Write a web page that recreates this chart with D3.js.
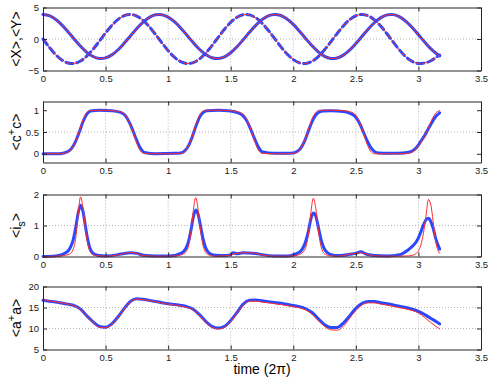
<!DOCTYPE html>
<html><head><meta charset="utf-8">
<script src="https://cdnjs.cloudflare.com/ajax/libs/d3/7.8.5/d3.min.js"></script>
<style>
html,body{margin:0;padding:0;background:#fff;}
svg{display:block;font-family:"Liberation Sans",Arial,Helvetica,sans-serif;}
</style></head>
<body><svg id="c" width="491" height="382"></svg>
<script>
// ---------- data ----------
const xTicks = [0,0.5,1,1.5,2,2.5,3,3.5];
const tGrid = [0,0.05,0.1,0.15,0.2,0.25,0.3,0.35,0.4,0.45,0.5,0.55,0.6,0.65,0.7,0.75,0.8,0.85,0.9,0.95,
  1.0,1.05,1.1,1.15,1.2,1.25,1.3,1.35,1.4,1.45,1.5,1.55,1.6,1.65,1.7,1.75,1.8,1.85,1.9,1.95,
  2.0,2.05,2.1,2.15,2.2,2.25,2.3,2.35,2.4,2.45,2.5,2.55,2.6,2.65,2.7,2.75,2.8,2.85,2.9,2.95,
  3.0,3.05,3.1,3.15,3.17];
// panel 1: <X>, <Y>
const xMean = [3.9,3.7,3.13,2.24,1.15,-0.03,-1.16,-2.11,-2.78,-3.09,-2.99,-2.52,-1.71,-0.65,0.52,1.67,2.68,3.44,3.84,3.86,
  3.48,2.75,1.76,0.6,-0.57,-1.63,-2.46,-2.97,-3.09,-2.82,-2.18,-1.24,-0.12,1.06,2.17,3.07,3.67,3.9,3.73,3.18,
  2.32,1.23,0.05,-1.08,-2.05,-2.75,-3.08,-3.01,-2.56,-1.77,-0.73,0.43,1.59,2.62,3.39,3.83,3.87,3.52,2.81,1.83,
  0.69,-0.49,-1.57,-2.42,-2.7];
const yMean = [0,-1.3,-2.45,-3.32,-3.81,-3.87,-3.49,-2.71,-1.63,-0.35,0.96,2.16,3.11,3.72,3.9,3.63,2.96,1.94,0.7,-0.61,
  -1.85,-2.89,-3.6,-3.89,-3.75,-3.17,-2.24,-1.06,0.26,1.54,2.64,3.44,3.86,3.83,3.37,2.52,1.38,0.1,-1.21,-2.37,
  -3.26,-3.79,-3.88,-3.53,-2.78,-1.71,-0.45,0.86,2.08,3.06,3.69,3.9,3.67,3.01,2.02,0.8,-0.52,-1.77,-2.83,-3.56,
  -3.89,-3.8,-3.45,-2.8,-2.55];
// panel 2: <c+c>
const tC = [0,0.1,0.17,0.2,0.23,0.26,0.29,0.32,0.35,0.38,
  0.45,0.55,0.62,0.66,0.69,0.72,0.75,0.78,0.81,0.9,
  1.05,1.1,1.13,1.16,1.19,1.22,1.25,1.28,1.31,1.4,
  1.5,1.56,1.6,1.63,1.66,1.69,1.72,1.75,1.85,1.95,
  2.0,2.03,2.06,2.09,2.12,2.15,2.18,2.21,2.24,2.3,
  2.4,2.46,2.5,2.53,2.56,2.59,2.62,2.65,2.68,2.78,
  2.88,2.93,2.96,2.99,3.02,3.05,3.08,3.11,3.14,3.17];
const cRed = [0,0,0.01,0.04,0.12,0.28,0.52,0.78,0.95,0.99,
  1.0,0.99,0.96,0.88,0.72,0.5,0.24,0.06,0.01,0,
  0,0.01,0.05,0.16,0.38,0.66,0.88,0.98,1.0,1.0,
  0.99,0.96,0.9,0.78,0.56,0.3,0.09,0.01,0,0,
  0.01,0.04,0.13,0.3,0.55,0.8,0.95,1.0,1.0,1.0,
  0.99,0.96,0.88,0.72,0.48,0.22,0.05,0,0,0,
  0,0.02,0.06,0.14,0.26,0.4,0.6,0.8,0.94,0.99];
const cBlue = [0,0,0.02,0.05,0.13,0.28,0.5,0.74,0.91,0.98,
  1.0,0.99,0.95,0.87,0.72,0.52,0.3,0.12,0.03,0,
  0.01,0.02,0.06,0.17,0.37,0.62,0.83,0.95,0.99,1.0,
  0.98,0.94,0.87,0.75,0.56,0.35,0.16,0.05,0.01,0.01,
  0.02,0.05,0.13,0.29,0.52,0.74,0.89,0.96,0.98,0.99,
  0.97,0.92,0.84,0.7,0.5,0.3,0.14,0.05,0.02,0.01,
  0.02,0.04,0.08,0.16,0.29,0.42,0.58,0.73,0.86,0.94];
// panel 3: <i_s>
const tS = [0,0.1,0.15,0.18,0.2,0.22,0.24,0.26,0.28,0.3,
  0.32,0.34,0.36,0.38,0.4,0.42,0.45,0.5,0.6,0.65,
  0.7,0.75,0.8,0.9,1.0,1.06,1.1,1.12,1.14,1.16,
  1.18,1.2,1.22,1.24,1.26,1.28,1.3,1.32,1.34,1.38,
  1.45,1.5,1.52,1.55,1.6,1.65,1.7,1.75,1.85,1.95,
  2.0,2.04,2.06,2.08,2.1,2.12,2.14,2.16,2.18,2.2,
  2.22,2.24,2.26,2.3,2.35,2.4,2.45,2.5,2.54,2.58,
  2.65,2.75,2.85,2.92,2.96,2.98,3.0,3.02,3.04,3.06,
  3.08,3.1,3.12,3.14,3.17];
const sRed = [0,0.01,0.02,0.04,0.06,0.1,0.22,0.55,1.3,1.92,
  1.55,0.85,0.35,0.13,0.06,0.03,0.02,0.01,0.05,0.1,
  0.13,0.1,0.03,0.01,0.01,0.02,0.05,0.08,0.14,0.3,
  0.7,1.45,1.9,1.5,0.8,0.33,0.13,0.06,0.03,0.01,
  0.02,0.05,0.08,0.1,0.12,0.12,0.1,0.05,0.01,0.01,
  0.02,0.05,0.08,0.15,0.3,0.7,1.4,1.88,1.55,0.85,
  0.35,0.13,0.06,0.02,0.01,0.03,0.08,0.1,0.12,0.08,
  0.02,0.01,0.01,0.02,0.05,0.09,0.18,0.38,0.75,1.3,
  1.84,1.65,1.05,0.45,0.1];
const sBlue = [0,0.02,0.06,0.12,0.18,0.3,0.52,0.9,1.38,1.65,
  1.45,0.95,0.5,0.22,0.1,0.06,0.03,0.02,0.06,0.1,
  0.12,0.1,0.04,0.02,0.02,0.04,0.1,0.15,0.25,0.45,
  0.8,1.25,1.5,1.35,0.95,0.55,0.28,0.14,0.08,0.04,
  0.03,0.06,0.12,0.09,0.12,0.11,0.1,0.06,0.02,0.02,
  0.05,0.12,0.18,0.3,0.5,0.8,1.2,1.4,1.3,0.95,
  0.58,0.32,0.17,0.06,0.03,0.04,0.07,0.1,0.15,0.08,
  0.03,0.02,0.06,0.22,0.36,0.46,0.6,0.8,1.02,1.18,
  1.23,1.12,0.88,0.55,0.24];
// panel 4: <a+a>
const aRed = [16.85,16.6,16.35,16.1,15.8,15.4,14.5,12.9,11.4,10.3,10.2,11.0,12.7,14.7,16.4,17.0,16.85,16.6,16.35,16.05,
  15.8,15.6,15.35,15.0,14.4,13.1,11.5,10.3,9.9,10.3,11.7,13.6,15.5,16.5,16.5,16.3,16.1,15.9,15.7,15.45,
  15.2,14.9,14.4,13.4,11.9,10.5,9.7,9.6,10.5,12.4,14.3,15.6,16.1,16.1,15.8,15.55,15.25,14.95,14.65,14.3,
  13.7,12.6,11.4,10.3,9.9];
const aBlue = [16.7,16.5,16.3,16.05,15.8,15.45,14.6,13.0,11.6,10.5,10.3,11.1,12.8,14.8,16.5,17.1,16.95,16.7,16.45,16.15,
  15.9,15.7,15.5,15.2,14.6,13.3,11.7,10.5,10.1,10.5,11.9,13.8,15.8,16.7,16.8,16.6,16.4,16.2,16.0,15.75,
  15.5,15.2,14.7,13.8,12.3,10.9,10.25,10.25,11.3,13.0,14.8,16.0,16.45,16.45,16.15,15.9,15.6,15.3,15.0,14.6,
  14.1,13.3,12.4,11.5,11.1];

const yTicks1 = [-5,0,5], yTicks2 = [0,0.5,1], yTicks3 = [0,1,2], yTicks4 = [5,10,15,20];

// ---------- layout ----------
const BLUE = "#2a48ff", RED = "#ff2a2a";
const svg = d3.select("#c");
const x = d3.scaleLinear().domain([0,3.5]).range([43,481]);
const fmt = d => (d < 0 ? "\u2212" : "") + String(Math.abs(d));

const panels = [
  {top:7.5, bottom:70.5, dom:[-5,5], ticks:yTicks1, label:"p1",
   series:[{t:tGrid,v:xMean,c:BLUE,w:3},{t:tGrid,v:xMean,c:RED,w:1},
           {t:tGrid,v:yMean,c:BLUE,w:3,dash:"7,4"},{t:tGrid,v:yMean,c:RED,w:1,dash:"5,3"}], curve:d3.curveCatmullRom},
  {top:101.5, bottom:162.5, dom:[-0.2,1.2], ticks:yTicks2, label:"p2",
   series:[{t:tC,v:cBlue,c:BLUE,w:3},{t:tC,v:cRed,c:RED,w:1}], curve:d3.curveMonotoneX},
  {top:194.5, bottom:256.5, dom:[0,2], ticks:yTicks3, label:"p3",
   series:[{t:tS,v:sBlue,c:BLUE,w:3},{t:tS,v:sRed,c:RED,w:1}], curve:d3.curveMonotoneX},
  {top:286.5, bottom:349.5, dom:[5,20], ticks:yTicks4, label:"p4",
   series:[{t:tGrid,v:aBlue,c:BLUE,w:3},{t:tGrid,v:aRed,c:RED,w:1}], curve:d3.curveMonotoneX}
];

panels.forEach((p,i) => {
  const y = d3.scaleLinear().domain(p.dom).range([p.bottom,p.top]);
  const g = svg.append("g");
  // grid
  g.append("g").selectAll("line").data(xTicks.slice(1,-1)).join("line")
    .attr("x1",d=>x(d)).attr("x2",d=>x(d)).attr("y1",p.top).attr("y2",p.bottom)
    .attr("stroke","#b5b5b5").attr("stroke-width",1).attr("stroke-dasharray","1,2");
  g.append("g").selectAll("line").data(p.ticks.slice(1,-1)).join("line")
    .attr("x1",x(0)).attr("x2",x(3.5)).attr("y1",d=>y(d)).attr("y2",d=>y(d))
    .attr("stroke","#b5b5b5").attr("stroke-width",1).attr("stroke-dasharray","1,2");
  // series
  p.series.forEach(s => {
    const line = d3.line().x((d,j)=>x(s.t[j])).y(d=>y(d)).curve(p.curve);
    g.append("path").attr("d", line(s.v)).attr("fill","none")
      .attr("stroke", s.c).attr("stroke-width", s.w)
      .attr("stroke-linejoin","round").attr("stroke-linecap","round")
      .attr("stroke-dasharray", s.dash || null);
  });
  // axes
  const ax = (gen, tr) => {
    const a = g.append("g").attr("transform", tr).call(gen);
    a.select(".domain").attr("stroke","#262626");
    a.selectAll(".tick line").attr("stroke","#262626");
    a.selectAll("text").attr("fill","#1a1a1a").style("font-size","9.5px")
      .style("font-family",'"Liberation Sans",Arial,Helvetica,sans-serif');
    return a;
  };
  ax(d3.axisBottom(x).tickValues(xTicks).tickFormat(fmt).tickSize(-4).tickSizeOuter(0).tickPadding(5), `translate(0,${p.bottom})`);
  ax(d3.axisTop(x).tickValues(xTicks).tickFormat("").tickSize(-4).tickSizeOuter(0), `translate(0,${p.top})`);
  ax(d3.axisLeft(y).tickValues(p.ticks).tickFormat(fmt).tickSize(-4).tickSizeOuter(0).tickPadding(4), `translate(${x(0)},0)`);
  ax(d3.axisRight(y).tickValues(p.ticks).tickFormat("").tickSize(-4).tickSizeOuter(0), `translate(${x(3.5)},0)`);
});

// y labels
function ylab(i, parts){
  const p = panels[i];
  const cy = (p.top+p.bottom)/2;
  const t = svg.append("text").attr("transform",`translate(21,${cy}) rotate(-90)`)
    .attr("text-anchor","middle").style("font-size","14px").attr("fill","#000");
  parts.forEach(pt => {
    const ts = t.append("tspan").text(pt.s);
    if (pt.dy) ts.attr("dy", pt.dy);
    if (pt.fs) ts.style("font-size", pt.fs);
  });
}
ylab(0, [{s:"<X>,<Y>"}]);
ylab(1, [{s:"<c"},{s:"+",dy:"-6",fs:"11px"},{s:"c>",dy:"6"}]);
ylab(2, [{s:"<i"},{s:"s",dy:"4",fs:"11px"},{s:">",dy:"-4"}]);
ylab(3, [{s:"<a"},{s:"+",dy:"-6",fs:"11px"},{s:"a>",dy:"6"}]);

svg.append("text").attr("x", (x(0)+x(3.5))/2).attr("y", 374).attr("text-anchor","middle")
  .style("font-size","14px").attr("fill","#000").text("time (2\u03c0)");
</script></body></html>
